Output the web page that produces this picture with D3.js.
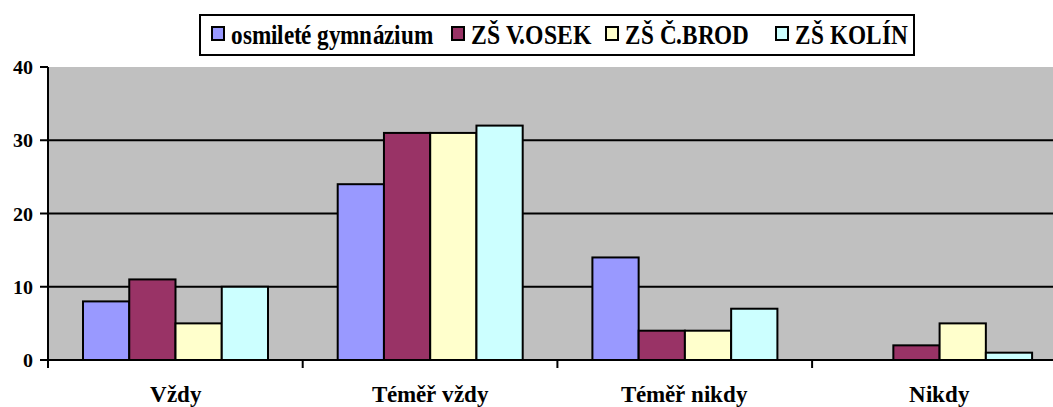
<!DOCTYPE html>
<html>
<head>
<meta charset="utf-8">
<script src="https://cdn.jsdelivr.net/npm/d3@7"></script>
<style>
  @font-face {
    font-family: 'ChartSerif';
    src: local('Liberation Serif Bold'), local('LiberationSerif-Bold'), local('Times New Roman Bold');
    font-weight: bold;
  }
  body { margin: 0; background: #fff; }
</style>
</head>
<body>
<svg width="1053" height="407"></svg>
<script>
var categories = ['Vždy', 'Téměř vždy', 'Téměř nikdy', 'Nikdy'];
var series = ['osmileté gymnázium', 'ZŠ V.OSEK', 'ZŠ Č.BROD', 'ZŠ KOLÍN'];
var gymnazium = [8, 24, 14, 0];
var osek = [11, 31, 4, 2];
var brod = [5, 31, 4, 5];
var kolin = [10, 32, 7, 1];
var yTicks = [0, 10, 20, 30, 40];
var colors = ['#9999FF', '#993366', '#FFFFCC', '#CCFFFF'];

var values = [gymnazium, osek, brod, kolin];

var svg = d3.select('svg');
var plotLeft = 48, plotTop = 67, plotBottom = 360;
var step = 254.7;
var fontName = "'ChartSerif'";

var x0 = d3.scaleBand()
  .domain(categories)
  .range([plotLeft, plotLeft + step * categories.length])
  .padding(0);

var x1 = d3.scaleBand()
  .domain(series)
  .range([35, 35 + 185])
  .padding(0);

var y = d3.scaleLinear()
  .domain([0, 40])
  .range([plotBottom, plotTop]);

// plot area
svg.append('rect')
  .attr('x', plotLeft)
  .attr('y', plotTop)
  .attr('width', step * categories.length)
  .attr('height', plotBottom - plotTop)
  .attr('fill', '#C0C0C0');

// gridlines
svg.selectAll('.grid')
  .data(yTicks.filter(d => d > 0 && d < 40))
  .enter()
  .append('line')
  .attr('x1', plotLeft)
  .attr('x2', 1053)
  .attr('y1', d => y(d))
  .attr('y2', d => y(d))
  .attr('stroke', '#000')
  .attr('stroke-width', 2);

// bars
categories.forEach((cat, ci) => {
  series.forEach((s, si) => {
    var v = values[si][ci];
    if (!v) return;
    svg.append('rect')
      .attr('x', x0(cat) + x1(s))
      .attr('y', y(v))
      .attr('width', x1.bandwidth())
      .attr('height', y(0) - y(v))
      .attr('fill', colors[si])
      .attr('stroke', '#000')
      .attr('stroke-width', 2);
  });
});

// axes
svg.append('line')
  .attr('x1', plotLeft - 8).attr('x2', 1053)
  .attr('y1', plotBottom).attr('y2', plotBottom)
  .attr('stroke', '#000').attr('stroke-width', 2);
svg.append('line')
  .attr('x1', plotLeft).attr('x2', plotLeft)
  .attr('y1', plotTop).attr('y2', plotBottom + 8)
  .attr('stroke', '#000').attr('stroke-width', 2);

svg.selectAll('.ytick')
  .data(yTicks)
  .enter()
  .append('line')
  .attr('x1', plotLeft - 8).attr('x2', plotLeft)
  .attr('y1', d => y(d)).attr('y2', d => y(d))
  .attr('stroke', '#000').attr('stroke-width', 2);

svg.selectAll('.ylabel')
  .data(yTicks)
  .enter()
  .append('text')
  .style('font-family', fontName)
  .style('font-weight', 'bold')
  .style('font-size', '20px')
  .attr('x', 33)
  .attr('y', d => y(d) + 7)
  .attr('text-anchor', 'end')
  .text(d => d);

svg.selectAll('.xtick')
  .data(categories)
  .enter()
  .append('line')
  .attr('x1', d => x0(d)).attr('x2', d => x0(d))
  .attr('y1', plotBottom).attr('y2', plotBottom + 8)
  .attr('stroke', '#000').attr('stroke-width', 2);

svg.selectAll('.xlabel')
  .data(categories)
  .enter()
  .append('text')
  .style('font-family', fontName)
  .style('font-weight', 'bold')
  .style('font-size', '23px')
  .attr('x', d => x0(d) + 35 + 185 / 2)
  .attr('y', 402)
  .attr('text-anchor', 'middle')
  .text(d => d);

// legend
var legend = svg.append('g');
legend.append('rect')
  .attr('x', 200).attr('y', 15)
  .attr('width', 714).attr('height', 40)
  .attr('fill', '#fff')
  .attr('stroke', '#000')
  .attr('stroke-width', 2);

var legendX = [211, 451, 605, 775];
legend.selectAll('.swatch')
  .data(series)
  .enter()
  .append('rect')
  .attr('x', (d, i) => legendX[i] + 1).attr('y', 27)
  .attr('width', 12).attr('height', 13)
  .attr('fill', (d, i) => colors[i])
  .attr('stroke', '#000')
  .attr('stroke-width', 2);

legend.selectAll('.ltext')
  .data(series)
  .enter()
  .append('text')
  .style('font-family', fontName)
  .style('font-weight', 'bold')
  .style('font-size', '28px')
  .attr('x', (d, i) => legendX[i] + 20)
  .attr('y', 44)
  .attr('textLength', (d, i) => [202, 121, 124, 113][i])
  .attr('lengthAdjust', 'spacingAndGlyphs')
  .text(d => d);
</script>
</body>
</html>
